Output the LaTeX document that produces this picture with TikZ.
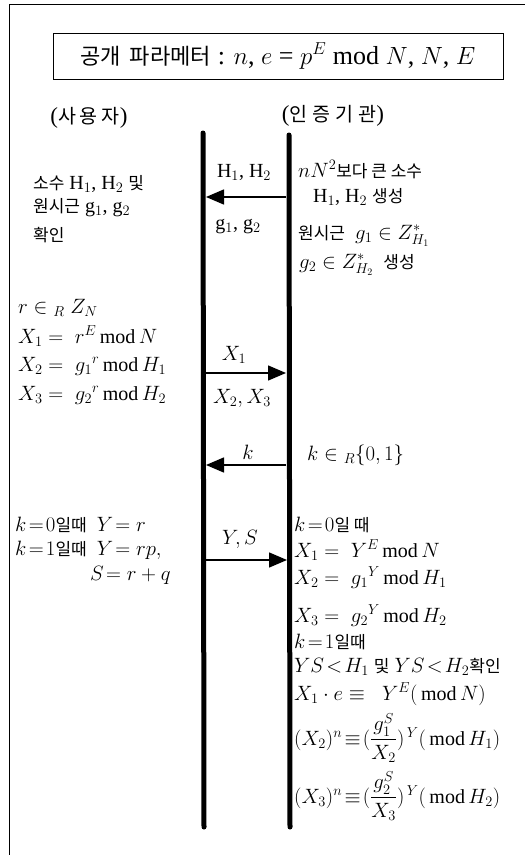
\documentclass[tikz,border=0pt]{standalone}
\usepackage{amsmath}
\usepackage{fontspec}
\setmainfont{Liberation Serif}
\newfontfamily\krfont[Scale=0.85]{Noto Sans CJK KR}
\newcommand\kor[1]{{\krfont #1}}
\usetikzlibrary{arrows.meta}
\begin{document}
\begin{tikzpicture}[x=1pt,y=-1pt,
  t/.style={anchor=base west,inner sep=0pt,font=\fontsize{20}{24}\selectfont},
  tc/.style={anchor=base,inner sep=0pt,font=\fontsize{20}{24}\selectfont},
  hd/.style={anchor=base,inner sep=0pt,font=\fontsize{23}{28}\selectfont},
  life/.style={line width=5pt,line cap=round},
  msg/.style={line width=1.5pt,-{Triangle[length=18pt,width=15pt]}},
  frame/.style={line width=1pt}]
\useasboundingbox (0,0) rectangle (525,855);
% outer frame (top and left only)
\draw[frame] (525,4) -- (9,4) -- (9,855);
% title
\node[draw,line width=1pt,minimum width=450pt,minimum height=46pt,inner sep=0pt,
      font=\fontsize{26}{30}\selectfont] (title) at (278,56)
      {\kor{공개\ \,파라메터} : $n$, $e$ = $p^E$ mod $N$, $N$, $E$};
% headers
\node[hd] (user) at (89,123) {(\kor{사}\hspace{4pt}\kor{용}\hspace{4pt}\kor{자})};
\node[hd] (auth) at (333,121) {(\kor{인}\hspace{5pt}\kor{증}\hspace{5pt}\kor{기}\hspace{5pt}\kor{관})};
% lifelines
\coordinate (uTop) at (203,133);
\coordinate (uBot) at (204,827);
\coordinate (aTop) at (289,135);
\coordinate (aBot) at (290,827);
\draw[life] (uTop) -- (uBot);
\draw[life] (aTop) -- (aBot);
% message 1
\coordinate (m1s) at (286,197);
\coordinate (m1e) at (206,197);
\draw[msg] (m1s) -- (m1e);
\node[tc] (m1a) at (244,177) {H$_1$, H$_2$};
\node[tc] (m1b) at (238,229) {g$_1$, g$_2$};
% user block 1
\node[t] (u1) at (33,189) {\kor{소수} H$_1$, H$_2$ \kor{및}};
\node[t] (u2) at (33,212) {\kor{원시근} g$_1$, g$_2$};
\node[t] (u3) at (33,241) {\kor{확인}};
% authority block 1
\node[t] (a1) at (298,177) {$nN^2$\kor{보다 큰 소수}};
\node[t] (a2) at (313,202) {H$_1$, H$_2$ \kor{생성}};
\node[t] (a3) at (298,239) {\kor{원시근}\ \ $g_1\in Z^*_{H_1}$};
\node[t] (a4) at (299,268) {$g_2\in Z^*_{H_2}$\ \ \kor{생성}};
% user block 2
\node[t] (u4) at (18,313) {$r \in{}_R\; Z_N$};
\node[t] (u5) at (18,343) {$X_1 = \; r^E\,\mathrm{mod}\,N$};
\node[t] (u6) at (18,371) {$X_2 = \; g_1{}^r\,\mathrm{mod}\,H_1$};
\node[t] (u7) at (18,400) {$X_3 = \; g_2{}^r\,\mathrm{mod}\,H_2$};
% message 2
\coordinate (m2s) at (206,373);
\coordinate (m2e) at (286,373);
\draw[msg] (m2s) -- (m2e);
\node[tc] (m2a) at (234,360) {$X_1$};
\node[tc] (m2b) at (242,403) {$X_2, X_3$};
% message 3
\coordinate (m3s) at (286,465);
\coordinate (m3e) at (206,465);
\draw[msg] (m3s) -- (m3e);
\node[tc] (m3a) at (248,459) {$k$};
\node[t] (a5) at (307,460) {$k \in{}_R\{0,1\}$};
% user block 3
\node[t] (u8) at (15,531) {$k\!=\!0$\kor{일때}\ \ $Y\!=r$};
\node[t] (u9) at (15,555) {$k\!=\!1$\kor{일때}\ \ $Y\!=rp,$};
\node[t] (u10) at (90,580) {$S\!= r+q$};
% message 4
\coordinate (m4s) at (206,560);
\coordinate (m4e) at (287,560);
\draw[msg] (m4s) -- (m4e);
\node[tc] (m4a) at (240,544) {$Y\!,S$};
% authority block 2
\node[t] (a6) at (294,531) {$k\!=\!0$\kor{일 때}};
\node[t] (a7) at (294,557) {$X_1 = \; Y^E\,\mathrm{mod}\,N$};
\node[t] (a8) at (294,584) {$X_2 = \; g_1{}^Y\,\mathrm{mod}\,H_1$};
\node[t] (a9) at (294,622) {$X_3 = \; g_2{}^Y\,\mathrm{mod}\,H_2$};
\node[t] (a10) at (294,648) {$k\!=\!1$\kor{일때}};
\node[t] (a11) at (294,672) {$YS\!<\!H_1$ \kor{및} $YS\!<\!H_2$\kor{확인}};
\node[t] (a12) at (294,700) {$X_1\cdot e\equiv\;\; Y^E(\,\mathrm{mod}\,N)$};
\node[t] (a13) at (294,745) {$(X_2)^n\!\equiv\!(\dfrac{g_1^S}{X_2})^{\,Y}(\,\mathrm{mod}\,H_1)$};
\node[t] (a14) at (294,803) {$(X_3)^n\!\equiv\!(\dfrac{g_2^S}{X_3})^{\,Y}(\,\mathrm{mod}\,H_2)$};
\end{tikzpicture}
\end{document}
